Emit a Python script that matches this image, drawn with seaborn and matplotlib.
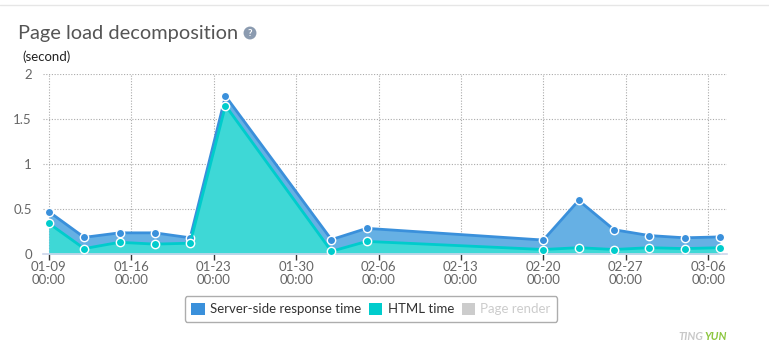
import matplotlib
matplotlib.use("Agg")
import matplotlib.pyplot as plt
import matplotlib.dates as mdates
from matplotlib.patches import Patch
from matplotlib.lines import Line2D
import seaborn as sns
import pandas as pd
import numpy as np

# ---- data ----
dates = ["2015-01-09", "2015-01-12", "2015-01-15", "2015-01-18", "2015-01-21",
         "2015-01-24", "2015-02-02", "2015-02-05", "2015-02-20", "2015-02-23",
         "2015-02-26", "2015-03-01", "2015-03-04", "2015-03-07"]
html_time = [0.34, 0.06, 0.13, 0.11, 0.12, 1.65, 0.03, 0.14, 0.05, 0.07, 0.05, 0.07, 0.06, 0.07]
server_time = [0.13, 0.125, 0.105, 0.125, 0.06, 0.105, 0.13, 0.145, 0.105, 0.525, 0.22, 0.135, 0.12, 0.12]
tick_dates = ["2015-01-09", "2015-01-16", "2015-01-23", "2015-01-30", "2015-02-06",
              "2015-02-13", "2015-02-20", "2015-02-27", "2015-03-06"]
y_ticks = [0, 0.5, 1, 1.5, 2]
y_tick_labels = ["0", "0.5", "1", "1.5", "2"]
legend_labels = ["Server-side response time", "HTML time", "Page render"]

BLUE_LINE = "#3a90db"
BLUE_FILL = "#66b0e4"
TEAL_LINE = "#00cccc"
TEAL_FILL = "#3ed8d6"

sns.set_theme(style="white")
plt.rcParams["font.family"] = ["Lato", "DejaVu Sans"]

x = pd.to_datetime(dates)
html = np.array(html_time)
total = html + np.array(server_time)

df = pd.DataFrame({
    "date": list(x) * 2,
    "value": list(total) + list(html),
    "series": ["total"] * len(x) + ["html"] * len(x),
})

fig = plt.figure(figsize=(7.69, 3.53), dpi=100)
ax = fig.add_axes([43 / 769, 1 - 254 / 353, (727 - 43) / 769, (254 - 74) / 353])

ax.fill_between(x, 0, total, color=BLUE_FILL, linewidth=0, zorder=1)
ax.fill_between(x, 0, html, color=TEAL_FILL, linewidth=0, zorder=2)

sns.lineplot(data=df, x="date", y="value", hue="series",
             palette={"total": BLUE_LINE, "html": TEAL_LINE},
             hue_order=["total", "html"], marker="o", markersize=6,
             markeredgecolor="white", markeredgewidth=1.0, linewidth=2,
             legend=False, ax=ax, zorder=3)

x0 = pd.Timestamp("2015-01-09")
ax.set_xlim(x0 - pd.Timedelta(days=0.5), x0 + pd.Timedelta(days=57.6))
ax.set_ylim(0, 2)

ax.set_xticks(pd.to_datetime(tick_dates))
ax.xaxis.set_major_formatter(mdates.DateFormatter("%m-%d\n%H:%M"))
ax.set_yticks(y_ticks)
ax.set_yticklabels(y_tick_labels)
ax.set_xlabel("")
ax.set_ylabel("")

ax.grid(True, linestyle=(0, (1, 1.5)), color="#aaaaaa", linewidth=0.8)
ax.set_axisbelow(True)
for s in ["top", "right", "left"]:
    ax.spines[s].set_visible(False)
ax.spines["bottom"].set_color("#ccd6eb")
ax.spines["bottom"].set_linewidth(1.2)
ax.tick_params(axis="x", which="major", direction="out", length=4, width=1,
               color="#333333", labelsize=9.5, labelcolor="#666666", pad=1, bottom=True)
ax.tick_params(axis="y", which="major", length=0, labelsize=9.5, labelcolor="#666666", pad=8)
for lbl in ax.get_xticklabels():
    lbl.set_linespacing(1.1)

# title and unit label
fig.text(18 / 769, 1 - 33 / 353, "Page load decomposition", fontsize=14.4,
         color="#555555", va="center", ha="left")
fig.text(250 / 769, 1 - 33 / 353, "?", fontsize=7, color="white", fontweight="bold",
         va="center", ha="center",
         bbox=dict(boxstyle="circle,pad=0.2", fc="#8b9bb0", ec="none"))
fig.text(22 / 769, 1 - 57 / 353, "(second)", fontsize=9.5, color="#222222",
         va="center", ha="left")

# top border line
fig.add_artist(Line2D([0, 1], [1 - 5 / 353, 1 - 5 / 353], color="#e6e6e6", linewidth=1))

# legend
handles = [Patch(facecolor=BLUE_LINE, edgecolor="none"),
           Patch(facecolor=TEAL_LINE, edgecolor="none"),
           Patch(facecolor="#cccccc", edgecolor="none")]
leg = fig.legend(handles, legend_labels, loc="center", bbox_to_anchor=(371 / 769, 1 - 309 / 353),
                 ncol=3, frameon=True, fontsize=9.5, handlelength=1.0, handleheight=1.0,
                 handletextpad=0.4, columnspacing=0.6, borderpad=0.5, fancybox=True)
leg.get_frame().set_edgecolor("#999999")
leg.get_frame().set_linewidth(1)
for t, c in zip(leg.get_texts(), ["#333333", "#333333", "#cccccc"]):
    t.set_color(c)

# watermark
fig.text(703 / 769, 1 - 337 / 353, "TING", fontsize=8, color="#c8c8c8", fontstyle="italic",
         fontweight="bold", ha="right", va="center")
fig.text(704 / 769, 1 - 337 / 353, "YUN", fontsize=8, color="#8cc63f", fontstyle="italic",
         fontweight="bold", ha="left", va="center")

fig.savefig("out.png", dpi=100)
